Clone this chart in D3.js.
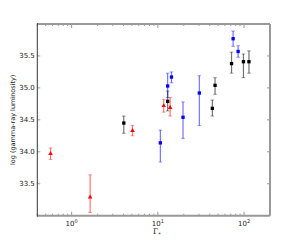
<!DOCTYPE html>
<html>
<head>
<meta charset="utf-8">
<title>Gamma-ray luminosity vs Gamma</title>
<style>
  body { margin: 0; background: #fff; }
  svg { display: block; font-family: "DejaVu Sans", sans-serif; }
</style>
</head>
<body>
<div id="chart"></div>
<script src="https://cdn.jsdelivr.net/npm/d3@7"></script>
<script>
// red points
var redX  = [0.57, 1.64, 5.08, 11.7, 13.9];
var redY  = [33.97, 33.29, 34.33, 34.72, 34.69];
var redLo = [33.88, 33.05, 34.25, 34.62, 34.56];
var redHi = [34.06, 33.64, 34.41, 34.82, 34.85];

// black points
var blackX  = [4.03, 13.0, 42.9, 46.1, 71.6, 98.4, 114];
var blackY  = [34.45, 34.79, 34.68, 35.04, 35.38, 35.41, 35.41];
var blackLo = [34.29, 34.64, 34.56, 34.90, 35.23, 35.16, 35.23];
var blackHi = [34.56, 34.95, 34.81, 35.16, 35.56, 35.53, 35.58];

// blue points
var blueX  = [10.7, 13.0, 14.4, 19.6, 30.3, 74.7, 85.4];
var blueY  = [34.14, 35.03, 35.17, 34.54, 34.92, 35.77, 35.57];
var blueLo = [33.84, 34.85, 35.08, 34.21, 34.41, 35.65, 35.48];
var blueHi = [34.34, 35.23, 35.25, 34.78, 35.19, 35.89, 35.66];

var yTicks = [33.5, 34.0, 34.5, 35.0, 35.5];
var xMajor = [1, 10, 100];

var W = 300, H = 240;
var m = {left: 37.3, right: 30, top: 24, bottom: 24.3};

var svg = d3.select("#chart").append("svg")
  .attr("width", W).attr("height", H);

var x = d3.scaleLog().domain([0.4, 200]).range([m.left, W - m.right]);
var y = d3.scaleLinear().domain([33.0, 36.0]).range([H - m.bottom, m.top]);

var x0 = x.range()[0], x1 = x.range()[1];
var y0 = y.range()[0], y1 = y.range()[1];

// minor x ticks
var xMinor = [];
[0.1, 1, 10, 100].forEach(function (d) {
  for (var k = 2; k <= 9; k++) {
    var v = d * k;
    if (v >= 0.4 && v <= 200) xMinor.push(v);
  }
});

var g = svg.append("g");

// x ticks bottom and top (inward)
xMinor.forEach(function (v) {
  g.append("line").attr("x1", x(v)).attr("x2", x(v)).attr("y1", y0).attr("y2", y0 - 2).attr("stroke", "#555").attr("stroke-width", 0.6);
  g.append("line").attr("x1", x(v)).attr("x2", x(v)).attr("y1", y1).attr("y2", y1 + 2).attr("stroke", "#555").attr("stroke-width", 0.6);
});
xMajor.forEach(function (v) {
  g.append("line").attr("x1", x(v)).attr("x2", x(v)).attr("y1", y0).attr("y2", y0 - 4).attr("stroke", "#555").attr("stroke-width", 0.6);
  g.append("line").attr("x1", x(v)).attr("x2", x(v)).attr("y1", y1).attr("y2", y1 + 4).attr("stroke", "#555").attr("stroke-width", 0.6);
  var t = g.append("text").attr("x", x(v)).attr("y", y0 + 10)
    .attr("text-anchor", "middle").attr("font-size", 7).attr("fill", "#222");
  t.append("tspan").text("10");
  t.append("tspan").attr("dy", -3).attr("font-size", 5).text(Math.round(Math.log10(v)));
});

// y ticks left and right
yTicks.forEach(function (v) {
  g.append("line").attr("x1", x0).attr("x2", x0 + 3).attr("y1", y(v)).attr("y2", y(v)).attr("stroke", "#555").attr("stroke-width", 0.6);
  g.append("line").attr("x1", x1).attr("x2", x1 - 3).attr("y1", y(v)).attr("y2", y(v)).attr("stroke", "#555").attr("stroke-width", 0.6);
  g.append("text").attr("x", x0 - 2.5).attr("y", y(v) + 2.5)
    .attr("text-anchor", "end").attr("font-size", 7).attr("fill", "#222")
    .text(v.toFixed(1));
});

// frame
g.append("line").attr("x1", x0).attr("x2", x1).attr("y1", y1).attr("y2", y1).attr("stroke", "#999").attr("stroke-width", 2);
g.append("line").attr("x1", x1).attr("x2", x1).attr("y1", y1).attr("y2", y0).attr("stroke", "#999").attr("stroke-width", 2);
g.append("line").attr("x1", x0).attr("x2", x1).attr("y1", y0).attr("y2", y0).attr("stroke", "#999").attr("stroke-width", 2);
g.append("line").attr("x1", x0).attr("x2", x0).attr("y1", y1 - 1).attr("y2", y0 + 1).attr("stroke", "#333").attr("stroke-width", 1);

// axis labels
svg.append("text").attr("x", x(10) - 1).attr("y", y0 + 18)
  .attr("text-anchor", "middle").attr("font-size", 7.5)
  .attr("font-family", "DejaVu Serif, serif").attr("fill", "#222")
  .text("Γ").append("tspan").attr("dy", 2).attr("font-size", 5).text("*");

svg.append("text")
  .attr("transform", "translate(15," + ((y0 + y1) / 2) + ") rotate(-90)")
  .attr("text-anchor", "middle").attr("font-size", 6.5).attr("fill", "#222")
  .text("log (gamma-ray luminosity)");

function series(xs, ys, lo, hi, color, shape) {
  var data = xs.map(function (d, i) { return {x: d, y: ys[i], lo: lo[i], hi: hi[i]}; });
  var s = svg.append("g");
  s.selectAll("line.bar").data(data).enter().append("line")
    .attr("x1", function (d) { return x(d.x); }).attr("x2", function (d) { return x(d.x); })
    .attr("y1", function (d) { return y(d.lo); }).attr("y2", function (d) { return y(d.hi); })
    .attr("stroke", color).attr("stroke-opacity", 0.55).attr("stroke-width", 1.2);
  ["lo", "hi"].forEach(function (k) {
    s.selectAll("line.cap" + k).data(data).enter().append("line")
      .attr("x1", function (d) { return x(d.x) - 1.8; }).attr("x2", function (d) { return x(d.x) + 1.8; })
      .attr("y1", function (d) { return y(d[k]); }).attr("y2", function (d) { return y(d[k]); })
      .attr("stroke", color).attr("stroke-opacity", 0.45).attr("stroke-width", 0.9);
  });
  var sym = d3.symbol().type(shape).size(shape === d3.symbolTriangle ? 9 : 11);
  s.selectAll("path").data(data).enter().append("path")
    .attr("d", sym)
    .attr("transform", function (d) { return "translate(" + x(d.x) + "," + y(d.y) + ")"; })
    .attr("fill", color);
}

series(redX, redY, redLo, redHi, "#ff0000", d3.symbolTriangle);
series(blackX, blackY, blackLo, blackHi, "#000000", d3.symbolSquare);
series(blueX, blueY, blueLo, blueHi, "#0000ff", d3.symbolSquare);
</script>
</body>
</html>
